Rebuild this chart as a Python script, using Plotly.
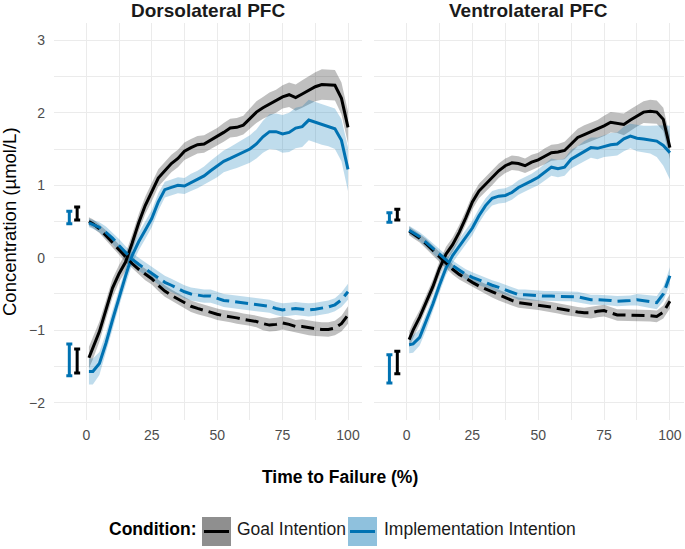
import plotly.graph_objects as go
import numpy as np

# ---------------- data ----------------
time_pct = [1, 2.5, 5, 7.5, 10, 12.5, 15, 17.5, 20, 22.5, 25, 27.5, 30, 32.5, 35, 37.5,
            40, 42.5, 45, 47.5, 50, 52.5, 55, 57.5, 60, 62.5, 65, 67.5, 70, 72.5, 75,
            77.5, 80, 82.5, 85, 87.5, 90, 92.5, 95, 97.5, 100]

# Dorsolateral PFC
dl_goal_up = [-1.38, -1.25, -1.02, -0.72, -0.42, -0.22, -0.06, 0.20, 0.48, 0.72, 0.90, 1.10,
              1.20, 1.30, 1.37, 1.47, 1.52, 1.56, 1.57, 1.62, 1.67, 1.73, 1.79, 1.80, 1.83,
              1.92, 2.01, 2.07, 2.12, 2.16, 2.22, 2.25, 2.21, 2.26, 2.31, 2.36, 2.39, 2.38,
              2.38, 2.20, 1.80]
dl_goal_up_se = [0.15, 0.15, 0.14, 0.13, 0.13, 0.12, 0.12, 0.12, 0.12, 0.12, 0.12, 0.12,
                 0.12, 0.12, 0.12, 0.12, 0.12, 0.12, 0.12, 0.12, 0.12, 0.13, 0.13, 0.13, 0.13,
                 0.14, 0.15, 0.15, 0.16, 0.16, 0.16, 0.17, 0.18, 0.19, 0.20, 0.20, 0.21, 0.21,
                 0.21, 0.22, 0.22]
dl_impl_up = [-1.57, -1.57, -1.46, -1.18, -0.86, -0.55, -0.25, 0.03, 0.22, 0.38, 0.54, 0.77,
              0.94, 0.97, 1.00, 0.99, 1.04, 1.08, 1.13, 1.20, 1.26, 1.33, 1.37, 1.41, 1.45,
              1.50, 1.57, 1.67, 1.74, 1.74, 1.71, 1.73, 1.79, 1.81, 1.90, 1.87, 1.84, 1.82,
              1.78, 1.62, 1.22]
dl_impl_up_se = [0.18, 0.18, 0.16, 0.14, 0.13, 0.12, 0.12, 0.12, 0.12, 0.12, 0.12, 0.12,
                 0.11, 0.11, 0.11, 0.11, 0.12, 0.12, 0.13, 0.14, 0.15, 0.15, 0.16, 0.17, 0.18,
                 0.19, 0.20, 0.22, 0.24, 0.25, 0.26, 0.27, 0.28, 0.28, 0.28, 0.28, 0.28, 0.28,
                 0.28, 0.29, 0.30]
dl_goal_down = [0.50, 0.47, 0.40, 0.31, 0.21, 0.11, 0.01, -0.08, -0.16, -0.23, -0.29, -0.38,
                -0.46, -0.52, -0.57, -0.62, -0.67, -0.70, -0.73, -0.75, -0.78, -0.80, -0.81,
                -0.83, -0.85, -0.86, -0.88, -0.91, -0.93, -0.92, -0.90, -0.92, -0.95, -0.95,
                -0.97, -0.98, -0.99, -0.99, -0.97, -0.91, -0.79]
dl_goal_down_se = [0.06, 0.06, 0.06, 0.07, 0.07, 0.07, 0.07, 0.07, 0.07, 0.08, 0.08, 0.08,
                   0.08, 0.08, 0.08, 0.08, 0.08, 0.08, 0.08, 0.08, 0.08, 0.08, 0.08, 0.08, 0.08,
                   0.08, 0.08, 0.09, 0.09, 0.09, 0.09, 0.09, 0.09, 0.10, 0.10, 0.10, 0.10, 0.10,
                   0.10, 0.11, 0.12]
dl_impl_down = [0.48, 0.46, 0.42, 0.35, 0.27, 0.17, 0.07, -0.02, -0.09, -0.15, -0.21, -0.28,
                -0.34, -0.38, -0.43, -0.47, -0.50, -0.52, -0.53, -0.53, -0.56, -0.59, -0.60,
                -0.61, -0.63, -0.64, -0.65, -0.66, -0.67, -0.70, -0.72, -0.71, -0.70, -0.71,
                -0.72, -0.71, -0.70, -0.68, -0.65, -0.58, -0.47]
dl_impl_down_se = [0.06, 0.06, 0.07, 0.08, 0.08, 0.09, 0.09, 0.09, 0.09, 0.09, 0.09, 0.09,
                   0.09, 0.09, 0.09, 0.09, 0.09, 0.09, 0.09, 0.09, 0.09, 0.09, 0.09, 0.09, 0.09,
                   0.09, 0.09, 0.09, 0.09, 0.09, 0.09, 0.09, 0.09, 0.09, 0.09, 0.09, 0.09, 0.09,
                   0.09, 0.10, 0.11]

# Ventrolateral PFC
vl_goal_up = [-1.13, -1.00, -0.82, -0.60, -0.40, -0.15, 0.05, 0.18, 0.35, 0.55, 0.77, 0.92,
              1.01, 1.10, 1.20, 1.27, 1.31, 1.30, 1.27, 1.32, 1.35, 1.40, 1.45, 1.46, 1.48,
              1.57, 1.66, 1.70, 1.74, 1.77, 1.82, 1.87, 1.86, 1.84, 1.90, 1.96, 2.01, 2.02,
              2.01, 1.91, 1.52]
vl_goal_up_se = [0.11, 0.11, 0.10, 0.10, 0.10, 0.10, 0.10, 0.10, 0.10, 0.10, 0.10, 0.10,
                 0.10, 0.10, 0.10, 0.10, 0.10, 0.10, 0.10, 0.10, 0.10, 0.11, 0.11, 0.11, 0.12,
                 0.12, 0.12, 0.13, 0.13, 0.13, 0.14, 0.14, 0.14, 0.15, 0.15, 0.15, 0.15, 0.16,
                 0.16, 0.16, 0.16]
vl_impl_up = [-1.20, -1.19, -1.10, -0.88, -0.64, -0.38, -0.14, 0.03, 0.16, 0.29, 0.41, 0.58,
              0.72, 0.82, 0.85, 0.86, 0.90, 0.97, 1.01, 1.06, 1.11, 1.18, 1.25, 1.23, 1.25,
              1.36, 1.41, 1.47, 1.52, 1.51, 1.54, 1.56, 1.57, 1.64, 1.68, 1.65, 1.64, 1.63,
              1.61, 1.55, 1.45]
vl_impl_up_se = [0.12, 0.12, 0.11, 0.11, 0.10, 0.10, 0.10, 0.10, 0.10, 0.10, 0.10, 0.10,
                 0.10, 0.10, 0.10, 0.10, 0.10, 0.10, 0.10, 0.10, 0.11, 0.11, 0.12, 0.12, 0.12,
                 0.13, 0.13, 0.14, 0.14, 0.15, 0.15, 0.16, 0.16, 0.17, 0.17, 0.18, 0.18, 0.19,
                 0.22, 0.28, 0.37]
vl_goal_down = [0.37, 0.33, 0.27, 0.19, 0.10, 0.01, -0.08, -0.16, -0.23, -0.29, -0.34, -0.39,
                -0.43, -0.48, -0.52, -0.56, -0.59, -0.62, -0.63, -0.64, -0.65, -0.66, -0.68,
                -0.70, -0.72, -0.74, -0.75, -0.76, -0.76, -0.74, -0.73, -0.76, -0.79, -0.79,
                -0.79, -0.79, -0.80, -0.80, -0.81, -0.75, -0.60]
vl_goal_down_se = [0.06, 0.06, 0.06, 0.07, 0.07, 0.07, 0.07, 0.07, 0.07, 0.07, 0.07, 0.07,
                   0.07, 0.07, 0.07, 0.07, 0.07, 0.07, 0.07, 0.07, 0.07, 0.07, 0.07, 0.07, 0.07,
                   0.07, 0.07, 0.07, 0.08, 0.08, 0.08, 0.08, 0.08, 0.08, 0.08, 0.08, 0.08, 0.08,
                   0.08, 0.09, 0.10]
vl_impl_down = [0.38, 0.35, 0.29, 0.21, 0.13, 0.04, -0.04, -0.11, -0.17, -0.23, -0.27, -0.31,
                -0.35, -0.38, -0.41, -0.44, -0.47, -0.51, -0.51, -0.52, -0.53, -0.53, -0.53,
                -0.53, -0.53, -0.53, -0.54, -0.56, -0.58, -0.58, -0.58, -0.59, -0.60, -0.60,
                -0.59, -0.58, -0.59, -0.61, -0.62, -0.50, -0.25]
vl_impl_down_se = [0.06, 0.06, 0.06, 0.07, 0.07, 0.07, 0.07, 0.07, 0.07, 0.07, 0.07, 0.07,
                   0.07, 0.07, 0.07, 0.07, 0.07, 0.07, 0.07, 0.07, 0.07, 0.07, 0.07, 0.07, 0.07,
                   0.07, 0.07, 0.07, 0.07, 0.07, 0.07, 0.07, 0.07, 0.07, 0.07, 0.08, 0.08, 0.08,
                   0.09, 0.10, 0.12]

# baseline error bars: [top, bottom]
baseline_x = {"goal": -3.5, "impl": -6.5}
dl_base_goal = [0.61, -1.425]
dl_base_goal_err = [0.09, 0.165]
dl_base_impl = [0.555, -1.41]
dl_base_impl_err = [0.085, 0.22]
vl_base_goal = [0.595, -1.445]
vl_base_goal_err = [0.075, 0.155]
vl_base_impl = [0.555, -1.535]
vl_base_impl_err = [0.065, 0.195]

panel_titles = ["Dorsolateral PFC", "Ventrolateral PFC"]
condition_labels = ["Goal Intention", "Implementation Intention"]
x_ticks = [0, 25, 50, 75, 100]
y_ticks = [-2, -1, 0, 1, 2, 3]

# ---------------- styling ----------------
FONT = "Liberation Sans, Arial, sans-serif"
BLACK = "#000000"
BLUE = "#0072B2"
RIB = {"goal": "rgba(0,0,0,0.25)", "impl": "rgba(0,114,178,0.25)"}
LINE = {"goal": BLACK, "impl": BLUE}
KEY_FILL = {"goal": "#8f8f8f", "impl": "#8fc1dd"}
GRID = "#ebebeb"

W, H = 685, 549
ML, MR, MT, MB = 54, 1, 23, 129
PW, PH = W - ML - MR, H - MT - MB


def pxx(px):
    return (px - ML) / PW


def pyy(py):
    return (H - MB - py) / PH


fig = go.Figure()

panels = [
    ("x", "y", dl_goal_up, dl_goal_up_se, dl_impl_up, dl_impl_up_se,
     dl_goal_down, dl_goal_down_se, dl_impl_down, dl_impl_down_se,
     dl_base_goal, dl_base_goal_err, dl_base_impl, dl_base_impl_err),
    ("x2", "y2", vl_goal_up, vl_goal_up_se, vl_impl_up, vl_impl_up_se,
     vl_goal_down, vl_goal_down_se, vl_impl_down, vl_impl_down_se,
     vl_base_goal, vl_base_goal_err, vl_base_impl, vl_base_impl_err),
]

xs = np.array(time_pct, dtype=float)
for (xa, ya, gu, gus, iu, ius, gd, gds, idn, ids, bg, bge, bi, bie) in panels:
    series = [("goal", gu, gus, "solid"), ("impl", iu, ius, "solid"),
              ("goal", gd, gds, "13px,6px"), ("impl", idn, ids, "13px,6px")]
    # ribbons
    for cond, m, s, dash in series:
        m = np.array(m); s = np.array(s)
        fig.add_trace(go.Scatter(
            x=np.concatenate([xs, xs[::-1]]),
            y=np.concatenate([m + s, (m - s)[::-1]]),
            fill="toself", fillcolor=RIB[cond], line=dict(width=0),
            mode="lines", hoverinfo="skip", showlegend=False, xaxis=xa, yaxis=ya))
    # lines
    for cond, m, s, dash in series:
        fig.add_trace(go.Scatter(
            x=xs, y=m, mode="lines",
            line=dict(color=LINE[cond], width=3, dash=dash),
            showlegend=False, xaxis=xa, yaxis=ya))
    # baseline error bars
    for cond, vals, errs in [("impl", bi, bie), ("goal", bg, bge)]:
        fig.add_trace(go.Scatter(
            x=[baseline_x[cond]] * len(vals), y=vals, mode="markers",
            marker=dict(size=1, color=LINE[cond]),
            error_y=dict(type="data", array=errs, color=LINE[cond], thickness=3, width=3),
            showlegend=False, xaxis=xa, yaxis=ya))

xrange = [-12.35, 105.35]
yrange = [-2.24, 3.24]
axis_common = dict(showline=False, zeroline=False, gridcolor=GRID, gridwidth=1.1,
                   ticks="", automargin=False,
                   tickfont=dict(family=FONT, size=14, color="#4d4d4d"))
minor_x = dict(tickvals=[-12.5, 12.5, 37.5, 62.5, 87.5], showgrid=True, gridcolor=GRID, gridwidth=0.6)
minor_y = dict(tickvals=[-1.5, -0.5, 0.5, 1.5, 2.5], showgrid=True, gridcolor=GRID, gridwidth=0.6)

fig.update_layout(
    width=W, height=H,
    margin=dict(l=ML, r=MR, t=MT, b=MB, autoexpand=False),
    paper_bgcolor="white", plot_bgcolor="white",
    showlegend=False,
    font=dict(family=FONT, color="#1a1a1a"),
    xaxis=dict(domain=[0, pxx(362)], range=xrange, tickvals=x_ticks,
               ticklabelstandoff=5, minor=minor_x, **axis_common),
    xaxis2=dict(domain=[pxx(374), 1], range=xrange, tickvals=x_ticks,
                ticklabelstandoff=5, minor=minor_x, **axis_common),
    yaxis=dict(domain=[0, 1], range=yrange, tickvals=y_ticks, anchor="x",
               ticklabelstandoff=8, minor=minor_y, **axis_common),
    yaxis2=dict(domain=[0, 1], range=yrange, tickvals=y_ticks, anchor="x2",
                showticklabels=False, minor=minor_y, **axis_common),
)

ann = []
for title, cx in zip(panel_titles, [208, 528]):
    ann.append(dict(text="<b>%s</b>" % title, x=pxx(cx), y=pyy(10.5), xref="paper", yref="paper",
                    showarrow=False, xanchor="center", yanchor="middle",
                    font=dict(family=FONT, size=19, color="#1a1a1a")))
ann.append(dict(text="Concentration (µmol/L)", x=pxx(9.5), y=pyy(221.5), xref="paper", yref="paper",
                showarrow=False, textangle=-90, xanchor="center", yanchor="middle",
                font=dict(family=FONT, size=18.5, color="#000000")))
ann.append(dict(text="<b>Time to Failure (%)</b>", x=pxx(340), y=pyy(477), xref="paper", yref="paper",
                showarrow=False, xanchor="center", yanchor="middle",
                font=dict(family=FONT, size=17.5, color="#000000")))

# custom legend
ann.append(dict(text="<b>Condition:</b>", x=pxx(107), y=pyy(529), xref="paper", yref="paper",
                showarrow=False, xanchor="left", yanchor="middle",
                font=dict(family=FONT, size=17.5, color="#000000")))
shapes = []
for cond, label, bx0, tx in [("goal", condition_labels[0], 202, 235),
                              ("impl", condition_labels[1], 348, 382)]:
    shapes.append(dict(type="rect", xref="paper", yref="paper",
                       x0=pxx(bx0), x1=pxx(bx0 + 29), y0=pyy(546), y1=pyy(517),
                       fillcolor=KEY_FILL[cond], line=dict(width=0)))
    shapes.append(dict(type="line", xref="paper", yref="paper",
                       x0=pxx(bx0 + 2), x1=pxx(bx0 + 27), y0=pyy(531.5), y1=pyy(531.5),
                       line=dict(color=LINE[cond], width=3)))
    ann.append(dict(text=label, x=pxx(tx), y=pyy(529), xref="paper", yref="paper",
                    showarrow=False, xanchor="left", yanchor="middle",
                    font=dict(family=FONT, size=17.5, color="#1a1a1a")))

fig.update_layout(annotations=ann, shapes=shapes)
fig.write_html("out.html", config={"displayModeBar": False},
               post_script="document.body.style.margin='0px';document.body.style.overflow='hidden';")
